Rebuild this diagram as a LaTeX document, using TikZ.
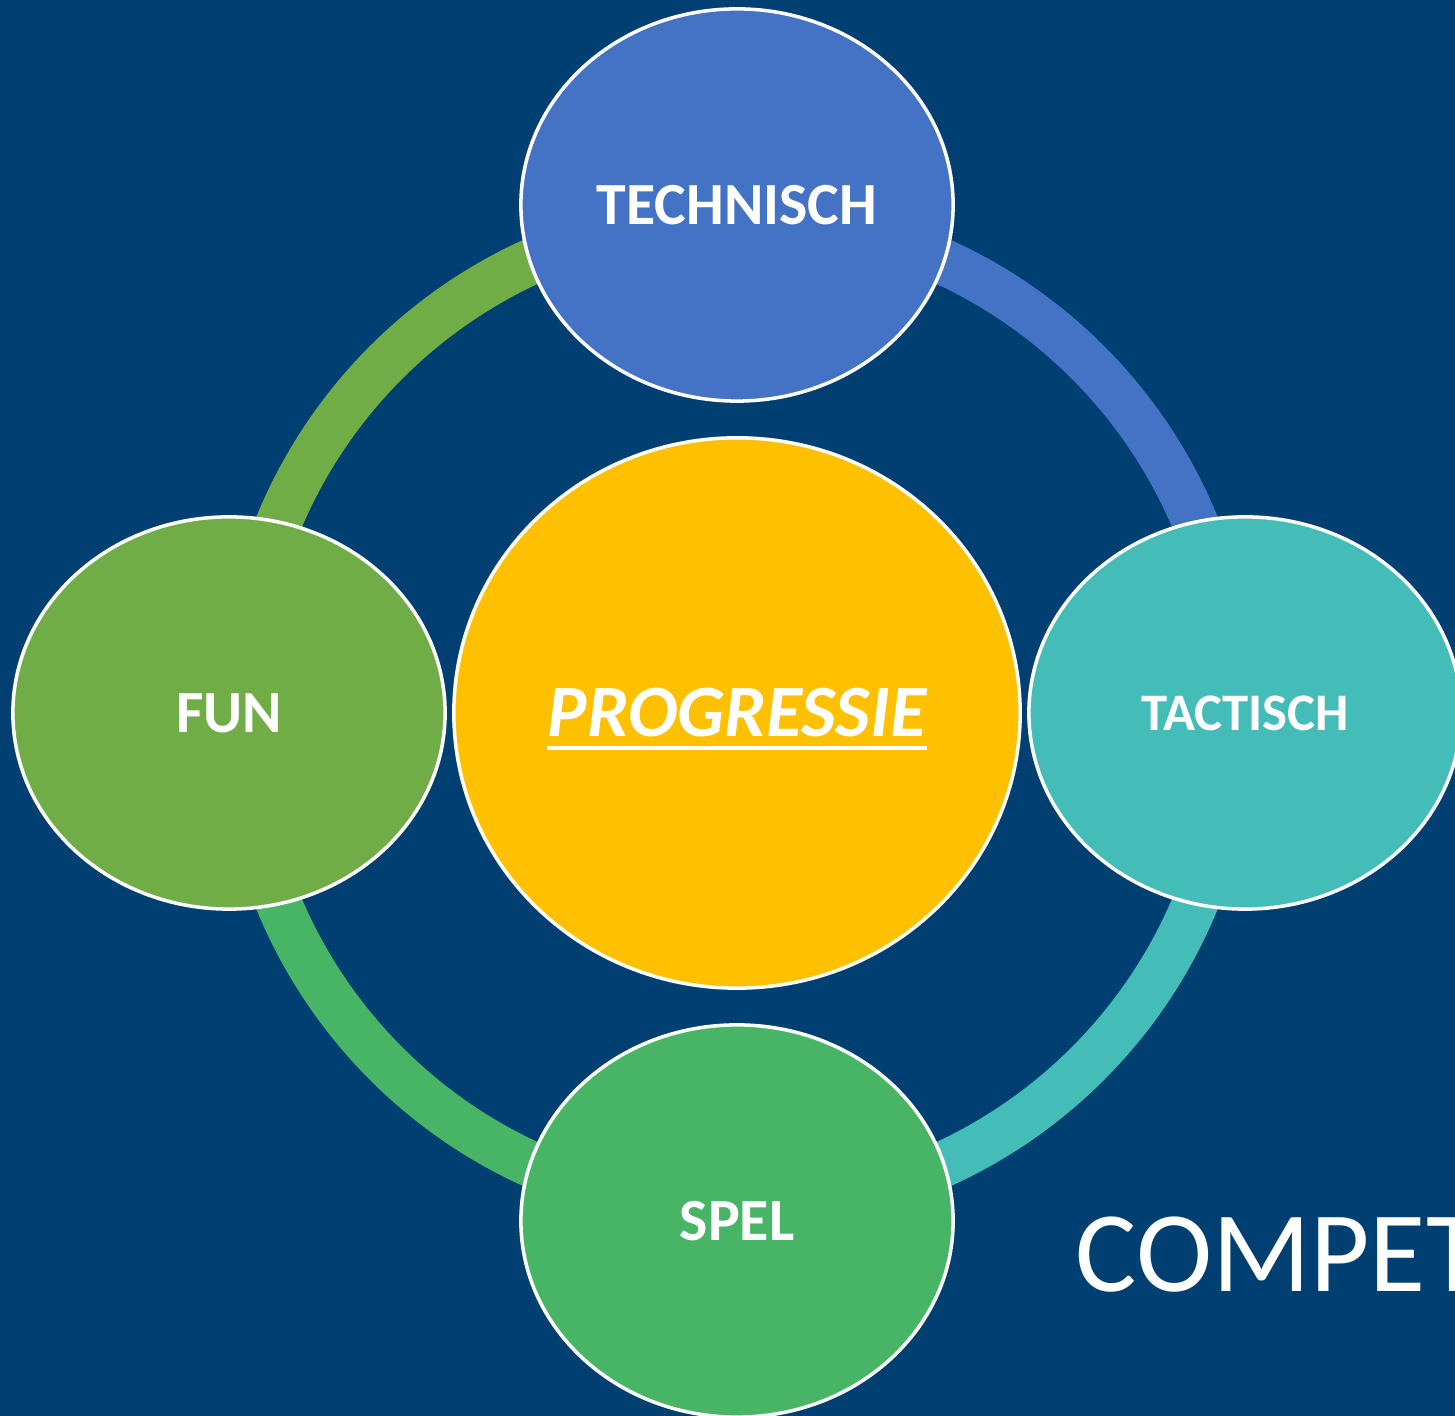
\documentclass[tikz,border=0pt]{standalone}
\usepackage{fontspec}
\setmainfont{Carlito}
\usetikzlibrary{shapes.geometric}
\definecolor{bgnavy}{HTML}{003F72}
\definecolor{techblue}{HTML}{4472C4}
\definecolor{tactteal}{HTML}{44BDB8}
\definecolor{spelgreen}{HTML}{48B566}
\definecolor{fungreen}{HTML}{70AD47}
\definecolor{progyellow}{HTML}{FFC000}
\begin{document}
\begin{tikzpicture}[x=0.01cm,y=0.01cm,
	bubble/.style={ellipse,draw=white,line width=1pt,minimum width=4.32cm,minimum height=3.92cm,text=white,font=\bfseries\fontsize{17}{20}\selectfont},
	ringarc/.style={line width=0.46cm}]
	\fill[bgnavy] (0,0) rectangle (1455,1416);
	\useasboundingbox (0,0) rectangle (1455,1416);
	\clip (0,0) rectangle (1455,1416);
	\coordinate (hub) at (737,703);
	\draw[ringarc,fungreen] ([shift={(180:496)}]hub) arc[start angle=180,end angle=90,radius=496];
	\draw[ringarc,techblue] ([shift={(90:496)}]hub) arc[start angle=90,end angle=0,radius=496];
	\draw[ringarc,tactteal] ([shift={(0:496)}]hub) arc[start angle=0,end angle=-90,radius=496];
	\draw[ringarc,spelgreen] ([shift={(-90:496)}]hub) arc[start angle=-90,end angle=-180,radius=496];
	\node[bubble,fill=techblue] (tech) at (737,1211) {TECHNISCH};
	\node[bubble,fill=tactteal,font=\bfseries\fontsize{15}{18}\selectfont] (tact) at (1245,703) {TACTISCH};
	\node[bubble,fill=spelgreen] (spel) at (737,195) {SPEL};
	\node[bubble,fill=fungreen] (fun) at (229,703) {FUN};
	\node[ellipse,draw=white,line width=1pt,fill=progyellow,minimum width=5.66cm,minimum height=5.50cm] (prog) at (hub) {};
	\node[inner sep=0pt,text=white,font=\bfseries\itshape\fontsize{21}{24}\selectfont] (progtxt) at (prog.center) {PROGRESSIE};
	\draw[white,line width=0.04cm] ([yshift=-0.11cm]progtxt.base west) -- ([yshift=-0.11cm]progtxt.base east);
	\node[anchor=base west,inner sep=0pt,text=white,font=\fontsize{32.7}{36}\selectfont] (compet) at (1075,124) {COMPET};
\end{tikzpicture}
\end{document}
